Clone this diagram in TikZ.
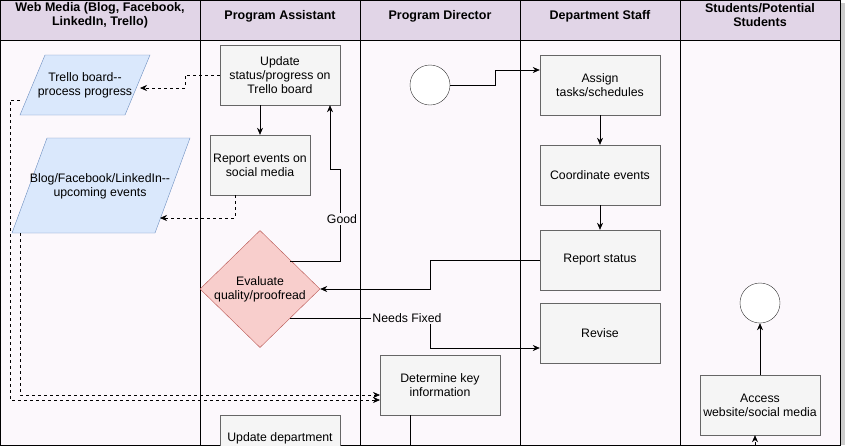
\documentclass[tikz,border=0pt]{standalone}
\usepackage{fontspec}
\setmainfont{Liberation Sans}
\usetikzlibrary{shapes.geometric,arrows.meta}
\definecolor{hdr}{HTML}{E1D5E7}
\definecolor{bg}{HTML}{FCF8FC}
\definecolor{boxf}{HTML}{F5F5F5}
\definecolor{boxd}{HTML}{666666}
\definecolor{parf}{HTML}{DAE8FC}
\definecolor{pard}{HTML}{6C8EBF}
\definecolor{dmf}{HTML}{F8CECC}
\definecolor{dmd}{HTML}{B85450}
\begin{document}
\begin{tikzpicture}[x=1pt,y=-1pt,font=\fontsize{12.3}{14}\selectfont,
  box/.style={draw=boxd,fill=boxf,minimum width=120pt,minimum height=60pt,align=center,inner sep=1pt},
  circ/.style={draw=black!80,fill=white,circle,minimum size=40pt,inner sep=0pt},
  arr/.style={-{Stealth[length=7pt,width=6pt]},line width=0.6pt},
  darr/.style={arr,dashed},
  hd/.style={font=\fontsize{12.5}{14}\selectfont\bfseries,align=center}]
\useasboundingbox (0,0) rectangle (847,445);
\fill[black!20] (840,3) rectangle (845,445);
\fill[bg] (0,40) rectangle (840,445);
\fill[hdr] (0,0) rectangle (840,40);
\draw[line width=0.7pt] (0,0) rectangle (840,445);
\draw[line width=0.7pt] (0,40) -- (840,40);
\foreach \x in {200,360,520,680} \draw[line width=0.7pt] (\x,0) -- (\x,445);
\node[hd] (h1) at (100,15) {Web Media (Blog, Facebook,\\LinkedIn, Trello)};
\node[hd] (h2) at (280,16) {Program Assistant};
\node[hd] (h3) at (440,16) {Program Director};
\node[hd] (h4) at (600,16) {Department Staff};
\node[hd] (h5) at (760,15) {Students/Potential\\Students};
% parallelograms
\path[draw=pard,fill=parf] (45,55) -- (150,55) -- (125,115) -- (20,115) -- cycle;
\node[align=center] (trello) at (85,85) {Trello board{-}{-}\\process progress};
\path[draw=pard,fill=parf] (47,138) -- (190,138) -- (155,233) -- (12,233) -- cycle;
\node[align=center] (blog) at (100,186) {Blog/Facebook/LinkedIn{-}{-}\\upcoming events};
% boxes
\node[box] (upd) at (280,75) {Update\\status/progress on\\Trello board};
\node[box,minimum width=100pt] (rep) at (260,165) {Report events on\\social media};
\node[diamond,draw=dmd,fill=dmf,minimum width=120pt,minimum height=112pt,inner sep=0pt,align=center] (eval) at (260,289) {Evaluate\\quality/proofread};
\node[box] (det) at (440,385) {Determine key\\information};
\node[box,anchor=north] (udep) at (280,415) {};
\node (udeplbl) at (280,438) {Update department};
\node[circ] (start) at (430,85) {};
\node[box] (assign) at (600,85) {Assign\\tasks/schedules};
\node[box] (coord) at (600,175) {Coordinate events};
\node[box] (rstat) at (600,260) {Report status};
\node[box] (rev) at (600,333) {Revise};
\node[circ] (end) at (760,303) {};
\node[box] (acc) at (760,405) {Access\\website/social media};
\coordinate (accin) at (755,445);
\coordinate (detout) at (410,445);
% solid connectors
\draw[arr] (start.east) -- (495,85) -- (495,70) -- (assign.west |- 0,70);
\draw[arr] (assign) -- (coord);
\draw[arr] (coord) -- (rstat);
\draw[arr] (rstat.west) -- (430,260) -- (430,289) -- (eval.east);
\draw[arr] (upd.south -| 260,0) -- (rep.north);
\draw[arr] (290,261) -- (340,261) -- (340,169) -- (330,169) -- (upd.south -| 330,0);
\node[fill=bg,inner sep=1pt] (good) at (342,219) {Good};
\draw[arr] (290,318) -- (430,318) -- (430,348) -- (rev.west |- 0,348);
\node[fill=bg,inner sep=1pt] (nf) at (407,318) {Needs Fixed};
\draw[line width=0.6pt] (det.south -| detout) -- (detout);
\draw[arr] (acc.north) -- (end.south);
% dashed connectors
\draw[darr] (upd.west) -- (185,75) -- (185,88) -- (140,88);
\draw[darr] (rep.south -| 235,0) -- (235,218) -- (160,218);
\draw[darr] (20,100) -- (10,100) -- (10,400) -- (380,400);
\draw[darr] (20,233) -- (20,395) -- (380,395);
\draw[darr] (accin) -- (acc.south -| accin);
\end{tikzpicture}
\end{document}
